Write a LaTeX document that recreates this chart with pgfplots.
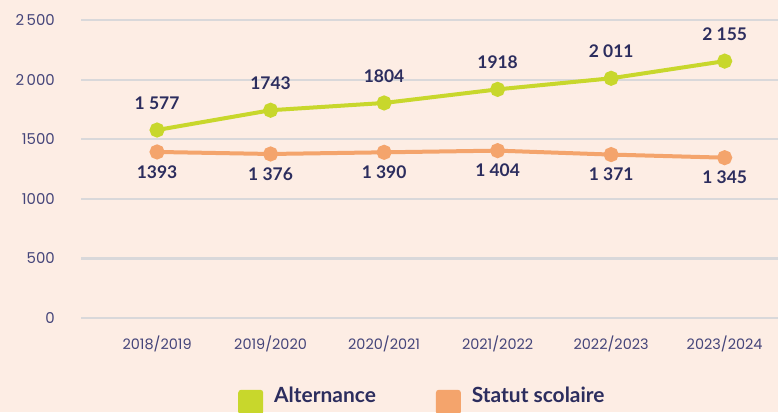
\documentclass[border=0pt]{standalone}
\usepackage{fontspec}
\setmainfont{Poppins}
\newfontfamily\labfont{Lato}
\usepackage{pgfplots}
\pgfplotsset{compat=1.18}
\definecolor{bg}{HTML}{FDEDE4}
\definecolor{grn}{HTML}{C8D72C}
\definecolor{org}{HTML}{F4A46C}
\definecolor{navy}{HTML}{2C2D5E}
\definecolor{tickc}{HTML}{45457A}
\definecolor{gridc}{HTML}{D9D8DA}
\begin{document}
\begin{tikzpicture}[x=1bp,y=1bp]
\fill[bg] (0,0) rectangle (778,412);
\path[use as bounding box] (0,0) rectangle (778,412);
\clip (0,0) rectangle (778,412);
\begin{scope}[overlay]
\begin{axis}[
  at={(81bp,94bp)}, anchor=south west,
  scale only axis, width=697bp, height=298bp,
  xmin=-0.67, xmax=5.47, ymin=0, ymax=2500,
  axis line style={draw=none}, tick style={draw=none},
  ymajorgrids, grid style={gridc, line width=2.2bp},
  ytick={0,500,1000,1500,2000,2500},
  yticklabels={0,500,1000,1500,2\,000,2\,500},
  yticklabel style={anchor=east, inner sep=0pt, xshift=-26bp, font=\fontsize{15}{17}\selectfont, text=tickc},
  xtick={0,1,2,3,4,5},
  xticklabels={2018/2019,2019/2020,2020/2021,2021/2022,2022/2023,2023/2024},
  xticklabel style={anchor=center, inner sep=0pt, yshift=-26bp, font=\fontsize{14.5}{16}\selectfont, text=tickc},
  clip=false,
  nodes near coords, point meta=explicit symbolic,
  every node near coord/.append style={anchor=center, text=navy, font=\labfont\bfseries\fontsize{17.5}{19}\selectfont},
  legend columns=2,
  legend style={at={(0.2253,-0.225)}, anchor=north west, draw=none, fill=none, inner sep=0pt,
    font=\labfont\bfseries\fontsize{21}{23}\selectfont, text=navy,
    /tikz/every odd column/.append style={column sep=9bp},
    /tikz/every even column/.append style={column sep=58bp}},
  legend image code/.code={\fill[draw=none, rounded corners=3bp] (0bp,-19bp) rectangle (25bp,6bp);},
]
\addplot[color=grn, line width=4bp, mark=*, mark size=5.5bp,
  every node near coord/.append style={yshift=27bp}]
  table[col sep=comma, row sep=\\, meta=lab] {
x,y,lab\\
0,1577,1 577\\
1,1743,1743\\
2,1804,1804\\
3,1918,1918\\
4,2011,2 011\\
5,2155,2 155\\
};
\addlegendentry{Alternance}
\addplot[color=org, line width=4bp, mark=*, mark size=5.5bp,
  every node near coord/.append style={yshift=-20bp}]
  table[col sep=comma, row sep=\\, meta=lab] {
x,y,lab\\
0,1393,1393\\
1,1376,1 376\\
2,1390,1 390\\
3,1404,1 404\\
4,1371,1 371\\
5,1345,1 345\\
};
\addlegendentry{Statut scolaire}
\end{axis}
\end{scope}
\end{tikzpicture}
\end{document}
